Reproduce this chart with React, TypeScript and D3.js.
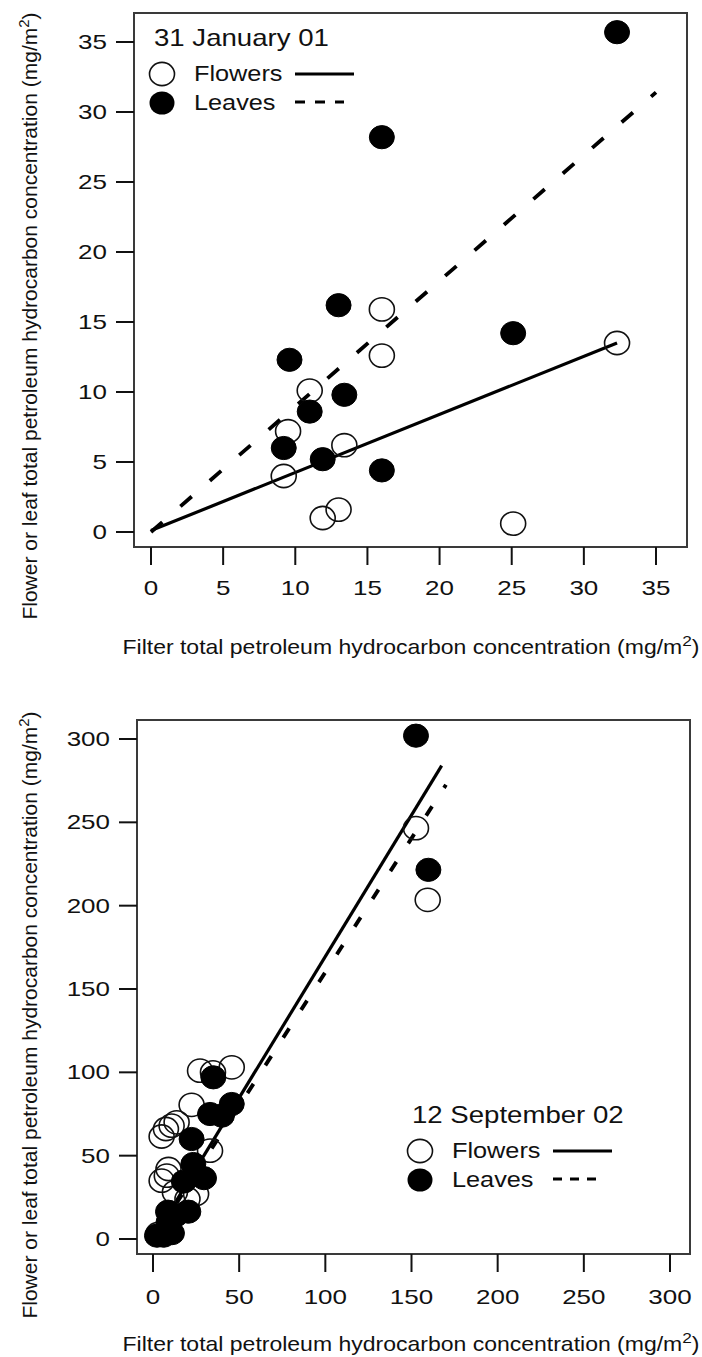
import React from "react";
import * as d3 from "d3";

// ---------- data ----------
const topTicks = [0, 5, 10, 15, 20, 25, 30, 35];
const bottomTicks = [0, 50, 100, 150, 200, 250, 300];

const topFlowersX = [11, 9.5, 13.4, 9.2, 13, 11.9, 16, 16, 32.3, 25.1];
const topFlowersY = [10.1, 7.2, 6.2, 4.0, 1.6, 1.0, 15.9, 12.6, 13.5, 0.6];
const topLeavesX = [13, 9.6, 13.4, 11, 9.2, 11.9, 16, 25.1, 32.3, 16];
const topLeavesY = [16.2, 12.3, 9.8, 8.6, 6.0, 5.2, 4.4, 14.2, 35.7, 28.2];
const topFlowersFitX = [0, 32.3];
const topFlowersFitY = [0.1, 13.5];
const topLeavesFitX = [0, 35];
const topLeavesFitY = [0, 31.4];

const bottomFlowersX = [152.6, 159.4, 27.3, 34.8, 45.7, 22.4, 7.5, 10.8, 5, 13.7, 33.1, 9, 5, 8, 12.7, 20, 25, 3];
const bottomFlowersY = [246.5, 203.5, 101, 100, 103, 80.5, 66, 68, 61.5, 70, 53, 42, 35, 38, 28, 24, 27, 3];
const bottomLeavesX = [152.6, 159.8, 35, 33.1, 45.7, 40, 22.4, 23.4, 29.6, 17.9, 8.7, 20.5, 13, 2.3, 6.2, 11, 9];
const bottomLeavesY = [302, 221.5, 97, 75, 81, 74, 60, 45, 36.5, 34.5, 16.4, 16.4, 14, 2, 2, 3.5, 10];
const bottomFlowersFitX = [3, 167.5];
const bottomFlowersFitY = [5, 284];
const bottomLeavesFitX = [3, 170];
const bottomLeavesFitY = [4.3, 272.5];

const xLabel = "Filter total petroleum hydrocarbon concentration (mg/m";
const yLabel = "Flower or leaf total petroleum hydrocarbon concentration (mg/m";

const FONT = "'Liberation Sans', Arial, Helvetica, sans-serif";
const zip = (xs: number[], ys: number[]) => xs.map((x, i) => [x, ys[i]] as [number, number]);

type PanelProps = {
  frame: { x0: number; x1: number; y0: number; y1: number };
  xDomain: [number, number];
  xRange: [number, number];
  yDomain: [number, number];
  yRange: [number, number];
  ticks: number[];
  flowers: [number, number][];
  leaves: [number, number][];
  flowersFit: [number, number][];
  leavesFit: [number, number][];
  dash: string;
  legend: { title: string; x: number; y: number; dashLegend: string };
  xLabelY: number;
  yLabelCY: number;
  tickLabelY: number;
};

function StretchText({ x, y, sx, anchor, size, children }: any) {
  return (
    <text
      transform={`translate(${x},${y}) scale(${sx},1)`}
      textAnchor={anchor}
      fontSize={size}
      fontFamily={FONT}
      fill="#111"
    >
      {children}
    </text>
  );
}

function Panel(p: PanelProps) {
  const xs = d3.scaleLinear().domain(p.xDomain).range(p.xRange);
  const ys = d3.scaleLinear().domain(p.yDomain).range(p.yRange);
  const line = d3
    .line<[number, number]>()
    .x((d) => xs(d[0]))
    .y((d) => ys(d[1]));
  const { x0, x1, y0, y1 } = p.frame;
  const rx = 12.5;
  const ry = 11.6;
  const L = p.legend;
  return (
    <g>
      <rect x={x0} y={y0} width={x1 - x0} height={y1 - y0} fill="none" stroke="#3a3a3a" strokeWidth={2} />
      {p.ticks.map((t) => (
        <g key={"xt" + t}>
          <line x1={xs(t)} x2={xs(t)} y1={y1} y2={y1 + 18} stroke="#111" strokeWidth={2} />
          <StretchText x={xs(t)} y={p.tickLabelY} sx={1.3} anchor="middle" size={20}>
            {t}
          </StretchText>
        </g>
      ))}
      {p.ticks.map((t) => (
        <g key={"yt" + t}>
          <line x1={x0 - 18} x2={x0} y1={ys(t)} y2={ys(t)} stroke="#111" strokeWidth={2} />
          <StretchText x={x0 - 27} y={ys(t) + 7} sx={1.3} anchor="end" size={20}>
            {t}
          </StretchText>
        </g>
      ))}
      <path d={line(p.flowersFit) || ""} fill="none" stroke="#000" strokeWidth={3.2} />
      <path d={line(p.leavesFit) || ""} fill="none" stroke="#000" strokeWidth={3.8} strokeDasharray={p.dash} />
      {p.flowers.map((d, i) => (
        <ellipse key={"f" + i} cx={xs(d[0])} cy={ys(d[1])} rx={rx} ry={ry} fill="none" stroke="#111" strokeWidth={1.6} />
      ))}
      {p.leaves.map((d, i) => (
        <ellipse key={"l" + i} cx={xs(d[0])} cy={ys(d[1])} rx={rx} ry={ry} fill="#000" stroke="#000" strokeWidth={1} />
      ))}
      {/* legend */}
      <StretchText x={L.x} y={L.y} sx={1.2} anchor="start" size={23}>
        {L.title}
      </StretchText>
      <ellipse cx={L.x + 8} cy={L.y + 28} rx={rx} ry={ry} fill="none" stroke="#111" strokeWidth={1.6} />
      <StretchText x={L.x + 40} y={L.y + 35} sx={1.15} anchor="start" size={22}>
        Flowers
      </StretchText>
      <line x1={L.x + 141} x2={L.x + 200} y1={L.y + 28} y2={L.y + 28} stroke="#000" strokeWidth={3.2} />
      <ellipse cx={L.x + 8} cy={L.y + 57} rx={rx} ry={ry} fill="#000" />
      <StretchText x={L.x + 40} y={L.y + 64} sx={1.15} anchor="start" size={22}>
        Leaves
      </StretchText>
      <line x1={L.x + 141} x2={L.x + 190} y1={L.y + 56} y2={L.y + 56} stroke="#000" strokeWidth={3.2} strokeDasharray={L.dashLegend} />
      {/* axis labels */}
      <StretchText x={(122 + 700) / 2} y={p.xLabelY} sx={1.15} anchor="middle" size={20}>
        {xLabel}
        <tspan dy={-8} fontSize={15}>2</tspan>
        <tspan dy={8}>)</tspan>
      </StretchText>
      <text
        transform={`translate(37,${p.yLabelCY}) rotate(-90)`}
        textAnchor="middle"
        fontSize={21}
        fontFamily={FONT}
        fill="#111"
      >
        {yLabel}
        <tspan dy={-8} fontSize={15}>2</tspan>
        <tspan dy={8}>)</tspan>
      </text>
    </g>
  );
}

export default function App() {
  return (
    <svg
      width={702}
      height={1357}
      style={{ position: "absolute", left: 0, top: 0, background: "#fff" }}
    >
      <rect x={0} y={0} width={702} height={1357} fill="#fff" />
      <Panel
        frame={{ x0: 134, x1: 687, y0: 13, y1: 547 }}
        xDomain={[0, 35]}
        xRange={[151, 656]}
        yDomain={[0, 35]}
        yRange={[532, 42]}
        ticks={topTicks}
        flowers={zip(topFlowersX, topFlowersY)}
        leaves={zip(topLeavesX, topLeavesY)}
        flowersFit={zip(topFlowersFitX, topFlowersFitY)}
        leavesFit={zip(topLeavesFitX, topLeavesFitY)}
        dash="15 24"
        legend={{ title: "31 January 01", x: 154, y: 46, dashLegend: "10 10" }}
        xLabelY={654}
        yLabelCY={316}
        tickLabelY={595}
      />
      <Panel
        frame={{ x0: 137, x1: 690, y0: 720, y1: 1254 }}
        xDomain={[0, 300]}
        xRange={[153, 670]}
        yDomain={[0, 300]}
        yRange={[1239, 739]}
        ticks={bottomTicks}
        flowers={zip(bottomFlowersX, bottomFlowersY)}
        leaves={zip(bottomLeavesX, bottomLeavesY)}
        flowersFit={zip(bottomFlowersFitX, bottomFlowersFitY)}
        leavesFit={zip(bottomLeavesFitX, bottomLeavesFitY)}
        dash="11 22"
        legend={{ title: "12 September 02", x: 412, y: 1123, dashLegend: "9 8" }}
        xLabelY={1351}
        yLabelCY={1015}
        tickLabelY={1304}
      />
    </svg>
  );
}
